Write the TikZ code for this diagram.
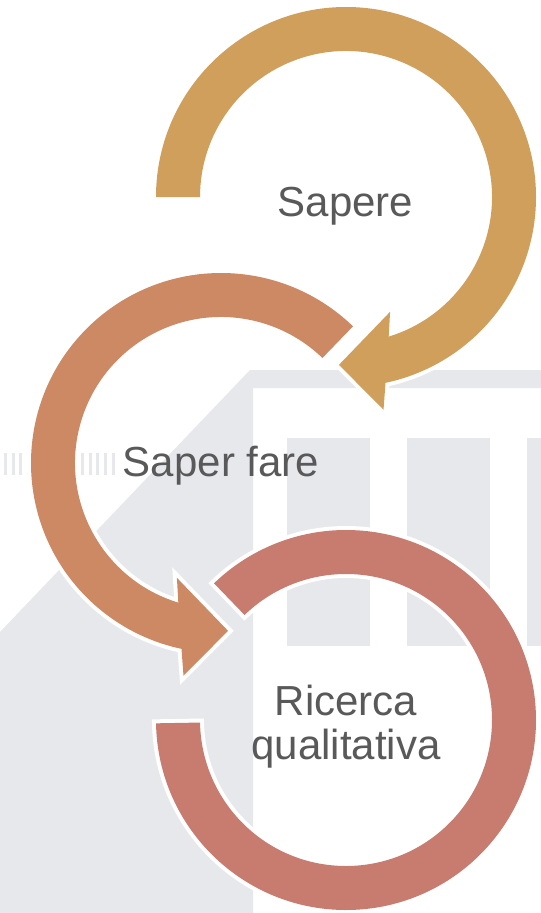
\documentclass[tikz,border=0pt]{standalone}
\usepackage{fontspec}
\setmainfont{Liberation Sans}
\begin{document}
\begin{tikzpicture}[x=0.75pt,y=0.75pt,yscale=-1,xscale=1,
  backdrop/.style={color={rgb, 255:red, 231; green, 232; blue, 236 }},
  outlined/.style={preaction={draw=white,line width=6pt,line join=miter}},
  arrowtext/.style={inner sep=0pt,color={rgb, 255:red, 89; green, 89; blue, 89 },font=\fontsize{31.5}{33}\selectfont}]
\useasboundingbox (0,0) rectangle (541,913);
\fill [white] (0,0) rectangle (541,913);

%Shape: Background house
\fill [backdrop] (0,632) -- (250,370) -- (541,370) -- (541,388) -- (253,388) -- (253,913) -- (0,913) -- cycle ;
%Shape: Background pillars
\foreach \px/\pw in {287/83,407/83,527/14}
  \fill [backdrop] (\px,438) rectangle ++(\pw,208) ;
%Shape: Background dashes
\draw [backdrop, line width=16.5pt, dash pattern=on 2.25pt off 3.53pt] (4,464) -- (115,464) ;

%Shape: Circular Arrow (third)
\begin{scope}[shift={(346,720)}]
\fill [outlined, color={rgb, 255:red, 200; green, 123; blue, 111 }] (179:190) arc [start angle=179, end angle=-134, radius=190] -- (-134:146) arc [start angle=-134, end angle=179, radius=146] -- cycle ;
\end{scope}
%Shape: Circular Arrow (second)
\begin{scope}[shift={(221,463)}]
\fill [outlined, color={rgb, 255:red, 204; green, 137; blue, 100 }] (-46:190) arc [start angle=-46, end angle=-258, radius=190] -- (-260:216) -- (-272.4:168) -- (-249:123) -- (-253:146) arc [start angle=-253, end angle=-46, radius=146] -- cycle ;
\end{scope}
%Shape: Circular Arrow (first)
\begin{scope}[shift={(346,197)}]
\fill [outlined, color={rgb, 255:red, 208; green, 159; blue, 91 }] (180:190) arc [start angle=180, end angle=438, radius=190] -- (440:216) -- (452.4:168) -- (429:123) -- (433:146) arc [start angle=433, end angle=180, radius=146] -- cycle ;
\end{scope}

% Text Node
\draw (345.5,216) node [arrowtext, anchor=base] (sapere) {Sapere};
% Text Node
\draw (221,476) node [arrowtext, anchor=base] (saperfare) {Saper fare};
% Text Node
\draw (346,727) node [arrowtext, align=center] (ricerca) {Ricerca\\qualitativa};

\end{tikzpicture}
\end{document}
